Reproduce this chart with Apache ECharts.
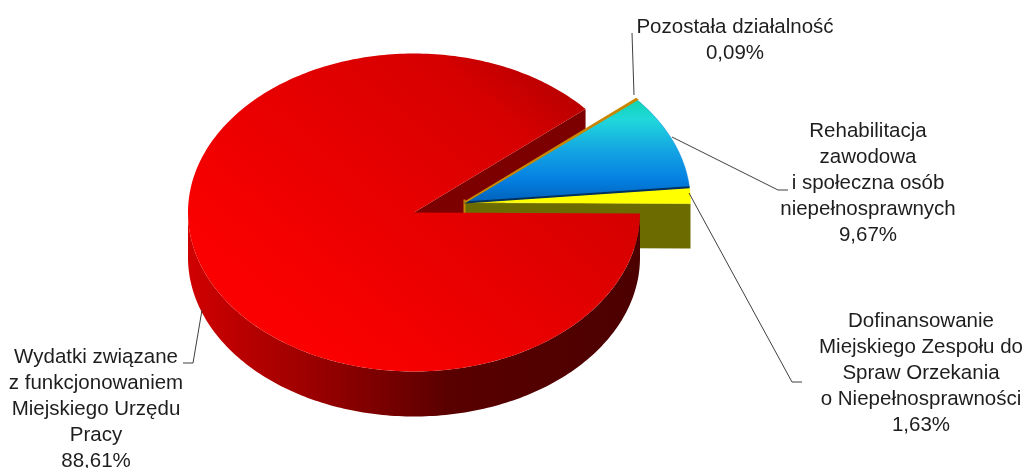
<!DOCTYPE html>
<html>
<head>
<meta charset="utf-8">
<style>
  html, body { margin: 0; padding: 0; background: #fff; }
  #chart { width: 1029px; height: 468px; }
</style>
<script src="https://cdn.jsdelivr.net/npm/echarts@6/dist/echarts.min.js"></script>
</head>
<body>
<div id="chart"></div>
<script>
// counter-clockwise from the east edge of the pie
var categories = [
  "Dofinansowanie\nMiejskiego Zespołu do\nSpraw Orzekania\no Niepełnosprawności",
  "Rehabilitacja\nzawodowa\ni społeczna osób\nniepełnosprawnych",
  "Pozostała działalność",
  "Wydatki związane\nz funkcjonowaniem\nMiejskiego Urzędu\nPracy"
];
var shares = [1.63, 9.67, 0.09, 88.61];

// layout of the tilted disc
var RX = 226, RY = 159, DEPTH = 45, FIRST_ANGLE = -0.4;
var MAIN_CENTER = [414, 212.5];
var PULLED_CENTER = [464.5, 202.5];
var RED = 3;

function pct(v) {
  return v.toFixed(2).replace(".", ",") + "%";
}

function grad(x, y, x2, y2, stops) {
  return new echarts.graphic.LinearGradient(x, y, x2, y2, stops.map(function (s) {
    return { offset: s[0], color: s[1] };
  }), true);
}

var topFills = [
  "#ffff00",
  grad(0, 96, 0, 203, [[0, "#0cd6a8"], [0.22, "#20d8dc"], [0.5, "#14a6e2"], [0.78, "#0480e2"], [1, "#0060b8"]]),
  "#c98600",
  grad(330, 345, 560, 70, [[0, "#fa0000"], [0.5, "#e40000"], [0.8, "#d60000"], [1, "#b40000"]])
];
var strokes = ["#ffff00", "#0480e2", "#c98600", "none"];

function sliceAngles(i) {
  var total = shares.reduce(function (a, b) { return a + b; }, 0);
  var before = shares.slice(0, i).reduce(function (a, b) { return a + b; }, 0);
  return [
    FIRST_ANGLE + before / total * 360,
    FIRST_ANGLE + (before + shares[i]) / total * 360
  ];
}

function rim(c, deg, drop) {
  var t = deg * Math.PI / 180;
  return [c[0] + RX * Math.cos(t), c[1] - RY * Math.sin(t) + (drop || 0)];
}

function arcPoints(c, from, to, drop) {
  var pts = [];
  var n = Math.max(2, Math.ceil(Math.abs(to - from)));
  for (var k = 0; k <= n; k++) {
    pts.push(rim(c, from + (to - from) * k / n, drop));
  }
  return pts;
}

function poly(points, style) {
  return { type: "polygon", shape: { points: points }, style: style };
}

// the wall the main slice shows inside its cut
function renderCutWall(params) {
  var a = sliceAngles(RED)[0];
  var c = MAIN_CENTER;
  return poly([c, rim(c, a), rim(c, a, DEPTH), [c[0], c[1] + DEPTH]], { fill: "#7c0000" });
}

function renderPulled(params) {
  var i = params.dataIndex;
  var c = PULLED_CENTER;
  var a = sliceAngles(i);
  var kids = [];
  if (i === 0) {
    // yellow cut face, facing the viewer
    kids.push(poly([c, rim(c, a[0]), rim(c, a[0], DEPTH), [c[0], c[1] + DEPTH]], { fill: "#6b6b00" }));
    kids.push({
      type: "polyline",
      shape: { points: [[c[0], c[1] - 3], [c[0], c[1] + DEPTH]] },
      style: { stroke: "#c98600", lineWidth: 2, fill: "none" }
    });
  }
  kids.push(poly([c].concat(arcPoints(c, a[0], a[1])), {
    fill: topFills[i], stroke: strokes[i], lineWidth: i === 2 ? 2 : 0.5
  }));
  if (i === 1) {
    kids.push({
      type: "polyline",
      shape: { points: [c, rim(c, a[0])] },
      style: { stroke: "#00305e", lineWidth: 2, fill: "none" }
    });
  }
  return { type: "group", children: kids };
}

function renderMain(params) {
  var c = MAIN_CENTER;
  var a = sliceAngles(RED);
  var wallTop = arcPoints(c, 180, 360);
  var wallLow = arcPoints(c, 360, 180, DEPTH);
  return {
    type: "group",
    children: [
      poly(wallTop.concat(wallLow), {
        fill: grad(188, 0, 640, 0, [[0, "#d00000"], [0.25, "#a00000"], [0.58, "#590000"], [1, "#4c0000"]])
      }),
      poly([c].concat(arcPoints(c, a[0], a[1])), { fill: topFills[RED] })
    ]
  };
}

// label centres and leader lines, same order as categories
var labelPos = [[921, 308], [868, 118], [735, 14], [96, 344]];
var leaders = [
  [[689, 193], [792, 382], [802, 382]],
  [[672, 137], [778, 190], [788, 190]],
  [[634, 95], [632, 33]],
  [[202, 310], [193, 363], [183, 363]]
];

var graphics = [];
leaders.forEach(function (pts) {
  graphics.push({
    type: "polyline",
    z: 20,
    shape: { points: pts },
    style: { stroke: "#404040", lineWidth: 1, fill: "none" }
  });
});
categories.forEach(function (name, i) {
  graphics.push({
    type: "text",
    z: 21,
    x: labelPos[i][0],
    y: labelPos[i][1],
    style: {
      text: name + "\n" + pct(shares[i]),
      align: "center",
      verticalAlign: "top",
      font: '20.5px "Liberation Sans", Arial, sans-serif',
      lineHeight: 26,
      fill: "#1e1e1e"
    }
  });
});

var chart = echarts.init(document.getElementById("chart"), null, { renderer: "canvas" });
chart.setOption({
  animation: false,
  backgroundColor: "#fff",
  graphic: graphics,
  series: [
    { type: "custom", coordinateSystem: "none", z: 1, silent: true, data: [shares[RED]], renderItem: renderCutWall },
    { type: "custom", coordinateSystem: "none", z: 2, silent: true, data: shares.slice(0, RED), renderItem: renderPulled },
    { type: "custom", coordinateSystem: "none", z: 3, silent: true, data: [shares[RED]], renderItem: renderMain }
  ]
});
</script>
</body>
</html>
